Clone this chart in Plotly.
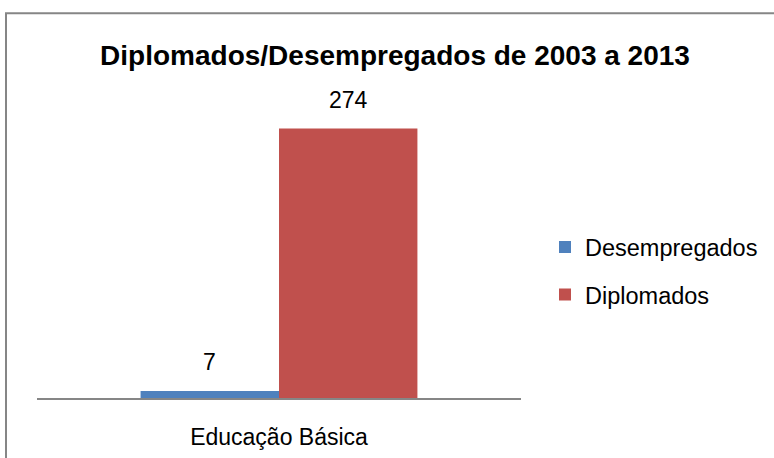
import plotly.graph_objects as go

categories = ["Educação Básica"]
series_names = ["Desempregados", "Diplomados"]
desempregados = [7]
diplomados = [274]
title_text = "Diplomados/Desempregados de 2003 a 2013"

colors = ["#4F81BD", "#C0504D"]
FONT = "Liberation Sans, Arial, sans-serif"

W, H = 774, 458
L, R, T, B = 37, 253, 102.5, 60
pw, ph = W - L - R, H - T - B
BARGAP = 0.428


def px_to_paper_x(px):
    return (px - L) / pw


def px_to_paper_y(py):
    return (H - B - py) / ph


fig = go.Figure()
series_vals = [desempregados, diplomados]
for name, vals, col in zip(series_names, series_vals, colors):
    fig.add_trace(go.Bar(
        x=categories, y=vals, name=name, marker_color=col,
        marker_line_width=0, legendgroup=name,
    ))

# value labels above bars (positions derived from category index and bargap)
annotations = []
n_series = len(series_vals)
bar_w = (1 - BARGAP) / n_series
for j, vals in enumerate(series_vals):
    for i, v in enumerate(vals):
        annotations.append(dict(
            x=i + (j - (n_series - 1) / 2) * bar_w, y=v, xref="x", yref="y",
            text=str(v), showarrow=False, yanchor="middle", yshift=29,
            font=dict(family=FONT, size=23, color="#000000"),
        ))

fig.update_layout(
    width=W, height=H,
    margin=dict(l=L, r=R, t=T, b=B, pad=0, autoexpand=False),
    paper_bgcolor="white", plot_bgcolor="white",
    barmode="group", bargap=BARGAP, bargroupgap=0,
    title=dict(text=f"<b>{title_text}</b>", x=395 / W, xanchor="center",
               y=1 - 55 / H, yanchor="middle", xref="container", yref="container",
               font=dict(family=FONT, size=28, color="#000000")),
    font=dict(family=FONT, size=23, color="#000000"),
    showlegend=True,
    legend=dict(x=px_to_paper_x(545), xanchor="left", y=px_to_paper_y(225), yanchor="top",
                font=dict(family=FONT, size=23.5, color="#000000"),
                tracegroupgap=14, bgcolor="rgba(0,0,0,0)"),
    xaxis=dict(showline=True, linecolor="#868686", linewidth=1.5, showgrid=False,
               ticks="", ticklabelstandoff=18, automargin=False,
               tickfont=dict(family=FONT, size=23, color="#000000")),
    yaxis=dict(range=[0, 300], visible=False, showgrid=False, zeroline=False,
               automargin=False),
    annotations=annotations,
    shapes=[dict(type="rect", xref="paper", yref="paper",
                 x0=px_to_paper_x(6), x1=px_to_paper_x(800),
                 y0=px_to_paper_y(480), y1=px_to_paper_y(12.5),
                 line=dict(color="#868686", width=2), fillcolor="rgba(0,0,0,0)", layer="below")],
)

fig.write_html("out.html", config={"displayModeBar": False},
               post_script="document.body.style.margin='0';")
